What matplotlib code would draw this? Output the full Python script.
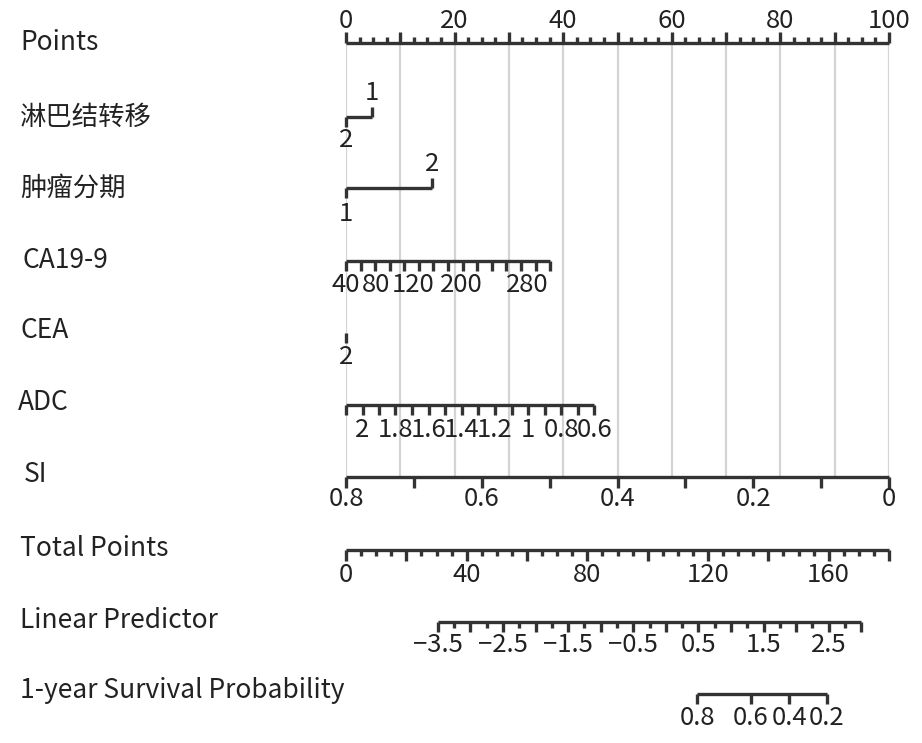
import numpy as np
import matplotlib
matplotlib.use("Agg")
import matplotlib.pyplot as plt
from matplotlib import transforms

plt.rcParams['font.family'] = ['Noto Sans CJK SC', 'DejaVu Sans']

# nomogram data: scale values and the points they sit at
row_names = ['Points', '淋巴结转移', '肿瘤分期', 'CA19-9', 'CEA', 'ADC', 'SI',
             'Total Points', 'Linear Predictor', '1-year Survival Probability']

pts_ticks = np.arange(0, 100.1, 2.5)
pts_labels = [0, 20, 40, 60, 80, 100]

lymph_values = ['2', '1']
lymph_points = [0, 4.8]

stage_values = ['1', '2']
stage_points = [0, 15.8]

ca_values = [40, 60, 80, 100, 120, 140, 160, 180, 200, 220, 240, 260, 280, 300, 320]
ca_points = [0, 2.7, 5.4, 8.1, 10.7, 13.4, 16.1, 18.8, 21.5, 24.2, 26.9, 29.5, 32.2, 34.9, 37.6]
# labels as they sit in the picture (some are nudged off their ticks)
ca_label_values = [40, 80, 120, 200, 280]
ca_label_points = [-0.1, 5.5, 12.3, 21.3, 33.3]

cea_values = ['2']
cea_points = [0]

adc_values = [2.1, 2.0, 1.9, 1.8, 1.7, 1.6, 1.5, 1.4, 1.3, 1.2, 1.1, 1.0, 0.9, 0.8, 0.7, 0.6]
adc_points = [0, 3.05, 6.1, 9.1, 12.2, 15.2, 18.3, 21.3, 24.4, 27.4, 30.5, 33.5, 36.6, 39.6, 42.7, 45.7]
adc_labels = ['2', '1.8', '1.6', '1.4', '1.2', '1', '0.8', '0.6']

si_values = [0.8, 0.7, 0.6, 0.5, 0.4, 0.3, 0.2, 0.1, 0.0]
si_points = [0, 12.5, 25, 37.5, 50, 62.5, 75, 87.5, 100]
si_labels = ['0.8', '0.6', '0.4', '0.2', '0']

total_ticks = np.arange(0, 181, 5)
total_labels = [0, 40, 80, 120, 160]
total_max = 180

lp_values = np.arange(-3.5, 3.01, 0.25)
lp_start_points = 16.9   # position of -3.5 on the points scale
lp_step_points = 12.0    # points per unit of linear predictor
lp_labels = [-3.5, -2.5, -1.5, -0.5, 0.5, 1.5, 2.5]

surv_values = ['0.8', '0.6', '0.4', '0.2']
surv_points = [64.7, 74.5, 81.6, 88.5]

# layout (pixel rows in a 922x743 canvas)
W, H = 922, 743
x0, x1 = 346, 889
row_y = [43, 117, 188, 261, 333, 405, 477, 550, 622, 694]
label_y = [43, 117, 188, 260, 331, 403, 475, 548, 620, 691]
label_x = [20, 20, 20, 22, 20, 18, 24, 20, 20, 20]

line_col = '#333333'
grid_col = '#d4d4d4'
lw = 2.4
fs = 19
tick_fs = 18.5

fig = plt.figure(figsize=(W / 100, H / 100), dpi=100)
ax = fig.add_axes([x0 / W, 0, (x1 - x0) / W, 1])
ax.set_xlim(0, 100)
ax.set_ylim(H, 0)
ax.axis('off')
ax.patch.set_alpha(0)


def hline(a, b, y):
    ax.plot([a, b], [y, y], color=line_col, lw=lw, solid_capstyle='butt', clip_on=False)


def tick(x, y, length):
    ax.plot([x, x], [y, y + length], color=line_col, lw=lw, solid_capstyle='butt', clip_on=False)


def lab(x, y, s):
    ax.text(x, y, s, ha='center', va='center', fontsize=tick_fs, color='#222222', clip_on=False)


# grid
for g in range(0, 101, 10):
    ax.plot([g, g], [row_y[0], row_y[6]], color=grid_col, lw=1.6, zorder=0)

# Points
y = row_y[0]
hline(0, 100, y)
for t in pts_ticks:
    tick(t, y, -11 if t % 10 == 0 else -6)
for t in pts_labels:
    lab(t, 21, str(t))

# lymph node
y = row_y[1]
hline(min(lymph_points), max(lymph_points), y)
tick(lymph_points[0], y, 10)
lab(lymph_points[0], 140, lymph_values[0])
tick(lymph_points[1], y, -10)
lab(lymph_points[1], 93, lymph_values[1])

# tumour stage
y = row_y[2]
hline(min(stage_points), max(stage_points), y)
tick(stage_points[0], y, 10)
lab(stage_points[0], 214, stage_values[0])
tick(stage_points[1], y, -10)
lab(stage_points[1], 164, stage_values[1])

# CA19-9
y = row_y[3]
hline(ca_points[0], ca_points[-1], y)
for p in ca_points:
    tick(p, y, 10)
for v, p in zip(ca_label_values, ca_label_points):
    lab(p, 285, str(v))

# CEA
y = row_y[4]
for v, p in zip(cea_values, cea_points):
    tick(p, y, 10)
    lab(p, 357, v)

# ADC
y = row_y[5]
hline(adc_points[0], adc_points[-1], y)
for v, p in zip(adc_values, adc_points):
    tick(p, y, 10)
    s = ('%.1f' % v).rstrip('0').rstrip('.')
    if s in adc_labels:
        lab(p, 430, s)

# SI
y = row_y[6]
hline(si_points[0], si_points[-1], y)
for v, p in zip(si_values, si_points):
    tick(p, y, 11)
    s = ('%.1f' % v).rstrip('0').rstrip('.')
    if s in si_labels:
        lab(p, 499, s)

# Total points
y = row_y[7]
hline(0, 100, y)
for t in total_ticks:
    p = t * 100.0 / total_max
    tick(p, y, 11 if t % 20 == 0 else 6)
    if t in total_labels:
        lab(p, 575, str(t))

# Linear predictor
y = row_y[8]
lp_pos = lp_start_points + (lp_values + 3.5) * lp_step_points
hline(lp_pos[0], lp_pos[-1], y)
for v, p in zip(lp_values, lp_pos):
    major = abs(v * 2 - round(v * 2)) < 1e-6
    tick(p, y, 10 if major else 6)
    if any(abs(v - l) < 1e-6 for l in lp_labels):
        lab(p, 645, ('%.1f' % v).replace('-', '\u2212'))

# survival
y = row_y[9]
hline(surv_points[0], surv_points[-1], y)
for v, p in zip(surv_values, surv_points):
    tick(p, y, 10)
    lab(p, 718, v)

# row names
tr = transforms.blended_transform_factory(fig.transFigure, ax.transData)
for name, lx, ly in zip(row_names, label_x, label_y):
    ax.text(lx / W, ly, name, transform=tr, ha='left', va='center',
            fontsize=fs, color='#222222')

fig.savefig('out.png', dpi=100)
